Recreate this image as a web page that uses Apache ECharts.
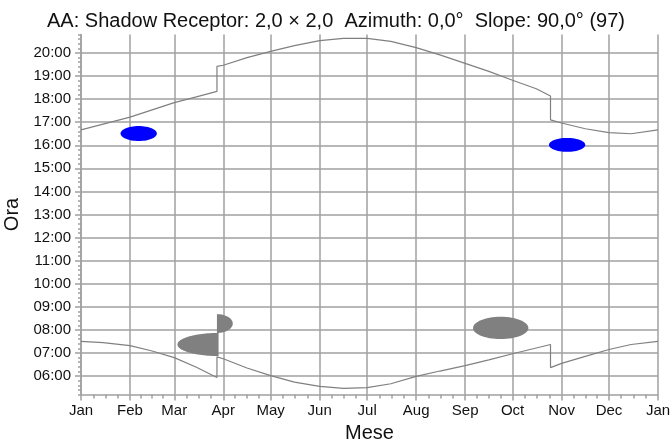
<!DOCTYPE html>
<html><head><meta charset="utf-8">
<script src="https://cdn.jsdelivr.net/npm/echarts@6/dist/echarts.min.js"></script>
<style>html,body{margin:0;padding:0;background:#fff}#c{width:672px;height:441px}</style>
</head><body><div id="c"></div>
<script>
const chartTitle = 'AA: Shadow Receptor: 2,0 \u00d7 2,0  Azimuth: 0,0\u00b0  Slope: 90,0\u00b0 (97)';
const xName = 'Mese';
const yName = 'Ora';
const monthLabels = ['Jan','Feb','Mar','Apr','May','Jun','Jul','Aug','Sep','Oct','Nov','Dec','Jan'];
const monthStartDays = [0,31,59,90,120,151,181,212,243,273,304,334,365];
const hourLabels = ['06:00','07:00','08:00','09:00','10:00','11:00','12:00','13:00','14:00','15:00','16:00','17:00','18:00','19:00','20:00'];

// Sunset line (day of year, local time)
const sunsetDays  = [0,14,31,45,59,73,86,86,90,105,120,135,151,166,181,196,212,227,243,258,273,288,297,297,304,319,334,348,365];
const sunsetTimes = ['16:40','16:55','17:13','17:32','17:51','18:06','18:20','19:25','19:28','19:48','20:04','20:19','20:32','20:38','20:38','20:30','20:14','19:55','19:33','19:12','18:49','18:27','18:08','17:06','16:58','16:43','16:33','16:30','16:40'];
// Sunrise line
const sunriseDays  = [0,14,31,45,59,73,86,86,90,105,120,135,151,166,181,196,212,227,243,258,273,288,297,297,304,319,334,348,365];
const sunriseTimes = ['07:30','07:27','07:19','07:05','06:48','06:23','05:56','06:50','06:45','06:21','06:01','05:44','05:33','05:28','05:30','05:40','05:59','06:13','06:27','06:42','06:58','07:13','07:22','06:22','06:33','06:51','07:09','07:22','07:30'];

// Shadow areas
const blobStart = [25, 296, 61, 86, 248];
const blobEnd   = [48, 319, 87, 96, 283];
const blobFrom  = ['16:11','15:43','06:52','07:52','07:36'];
const blobTo    = ['16:50','16:19','07:52','08:41','08:34'];
const blobCut   = ['none','none','right','left','none'];
const blobKind  = ['blue','blue','gray','gray','gray'];

const kindColor = {blue:'#0000ff', gray:'#808080'};
const cutCode = {none:0, right:1, left:2};
function toMin(s){const p=s.split(':');return (+p[0])*60+(+p[1]);}
function fmt(m){const h=Math.floor(m/60), mm=Math.round(m%60);return (h<10?'0':'')+h+':'+(mm<10?'0':'')+mm;}

const hourValues = hourLabels.map(toMin);
const minorXTicks = [];
for(let i=0;i<monthStartDays.length-1;i++){
  const a=monthStartDays[i], b=monthStartDays[i+1];
  for(let k=1;k<4;k++) minorXTicks.push(a+(b-a)*k/4);
}
const sunsetData = sunsetDays.map((d,i)=>[d,toMin(sunsetTimes[i])]);
const sunriseData = sunriseDays.map((d,i)=>[d,toMin(sunriseTimes[i])]);
const blobData = blobStart.map((d,i)=>({value:[d,blobEnd[i],toMin(blobFrom[i]),toMin(blobTo[i]),cutCode[blobCut[i]]], itemStyle:{color:kindColor[blobKind[i]]}}));

const gridColor = '#a0a0a0';
const font = 'Liberation Sans, Arial, sans-serif';
const chart = echarts.init(document.getElementById('c'), null, {renderer:'canvas'});
chart.setOption({
  animation:false,
  backgroundColor:'#fff',
  title:{text:chartTitle, left:'center', top:6, textStyle:{fontFamily:font, fontSize:20, fontWeight:'normal', color:'#111'}},
  grid:{left:81, right:14, top:34.5, bottom:46.5, containLabel:false, outerBoundsMode:'none'},
  xAxis:[{
    type:'value', min:0, max:365, position:'bottom',
    name:xName, nameLocation:'middle', nameGap:24,
    nameTextStyle:{fontFamily:font, fontSize:20, color:'#111'},
    axisLine:{show:true, lineStyle:{color:gridColor, width:1.5}},
    axisTick:{show:true, customValues:monthStartDays, length:6, lineStyle:{color:gridColor, width:1.5}},
    axisLabel:{customValues:monthStartDays, margin:9, fontFamily:font, fontSize:15, color:'#111',
      formatter:(v)=>{const i=monthStartDays.indexOf(v);return i>=0?monthLabels[i]:'';}},
    splitLine:{show:true, lineStyle:{color:gridColor, width:1.5}}
  },{
    type:'value', min:0, max:365, position:'bottom', gridIndex:0,
    axisLine:{show:false},
    axisTick:{show:true, customValues:minorXTicks, length:4, lineStyle:{color:gridColor, width:1.5}},
    axisLabel:{show:false},
    splitLine:{show:false}
  }],
  yAxis:[{
    type:'value', min:312, max:1248, interval:12, position:'left',
    name:yName, nameLocation:'middle', nameGap:53,
    nameTextStyle:{fontFamily:font, fontSize:20, color:'#111'},
    axisLine:{show:true, lineStyle:{color:gridColor, width:1.5}},
    axisTick:{show:true, customValues:hourValues, length:6, lineStyle:{color:gridColor, width:1.5}},
    axisLabel:{customValues:hourValues, margin:10, fontFamily:font, fontSize:15, color:'#111', formatter:(v)=>fmt(v)},
    splitLine:{show:true, lineStyle:{color:gridColor, width:1.5}}
  },{
    type:'value', min:312, max:1248, interval:12, position:'left',
    axisLine:{show:false},
    axisTick:{show:true, length:3, lineStyle:{color:gridColor, width:1.5}},
    axisLabel:{show:false},
    splitLine:{show:false}
  }],
  series:[{
    type:'custom', xAxisIndex:0, yAxisIndex:0, clip:true,
    renderItem:(params, api)=>{
      const d0=api.value(0), d1=api.value(1), t0=api.value(2), t1=api.value(3), cut=api.value(4);
      const cy=(t0+t1)/2, ry=(t1-t0)/2;
      let cx, rx, a0, a1;
      if(cut===1){cx=d1; rx=d1-d0; a0=Math.PI/2; a1=3*Math.PI/2;}
      else if(cut===2){cx=d0; rx=d1-d0; a0=-Math.PI/2; a1=Math.PI/2;}
      else {cx=(d0+d1)/2; rx=(d1-d0)/2; a0=0; a1=2*Math.PI;}
      const pts=[]; const n=60;
      for(let i=0;i<=n;i++){const a=a0+(a1-a0)*i/n; pts.push(api.coord([cx+rx*Math.cos(a), cy+ry*Math.sin(a)]));}
      return {type:'polygon', shape:{points:pts}, style:{fill:api.visual('color')}};
    },
    data:blobData
  },{
    type:'line', xAxisIndex:0, yAxisIndex:0, data:sunsetData, showSymbol:false, symbol:'none',
    lineStyle:{color:'#808080', width:1.2}
  },{
    type:'line', xAxisIndex:0, yAxisIndex:0, data:sunriseData, showSymbol:false, symbol:'none',
    lineStyle:{color:'#808080', width:1.2}
  }]
});
</script></body></html>
